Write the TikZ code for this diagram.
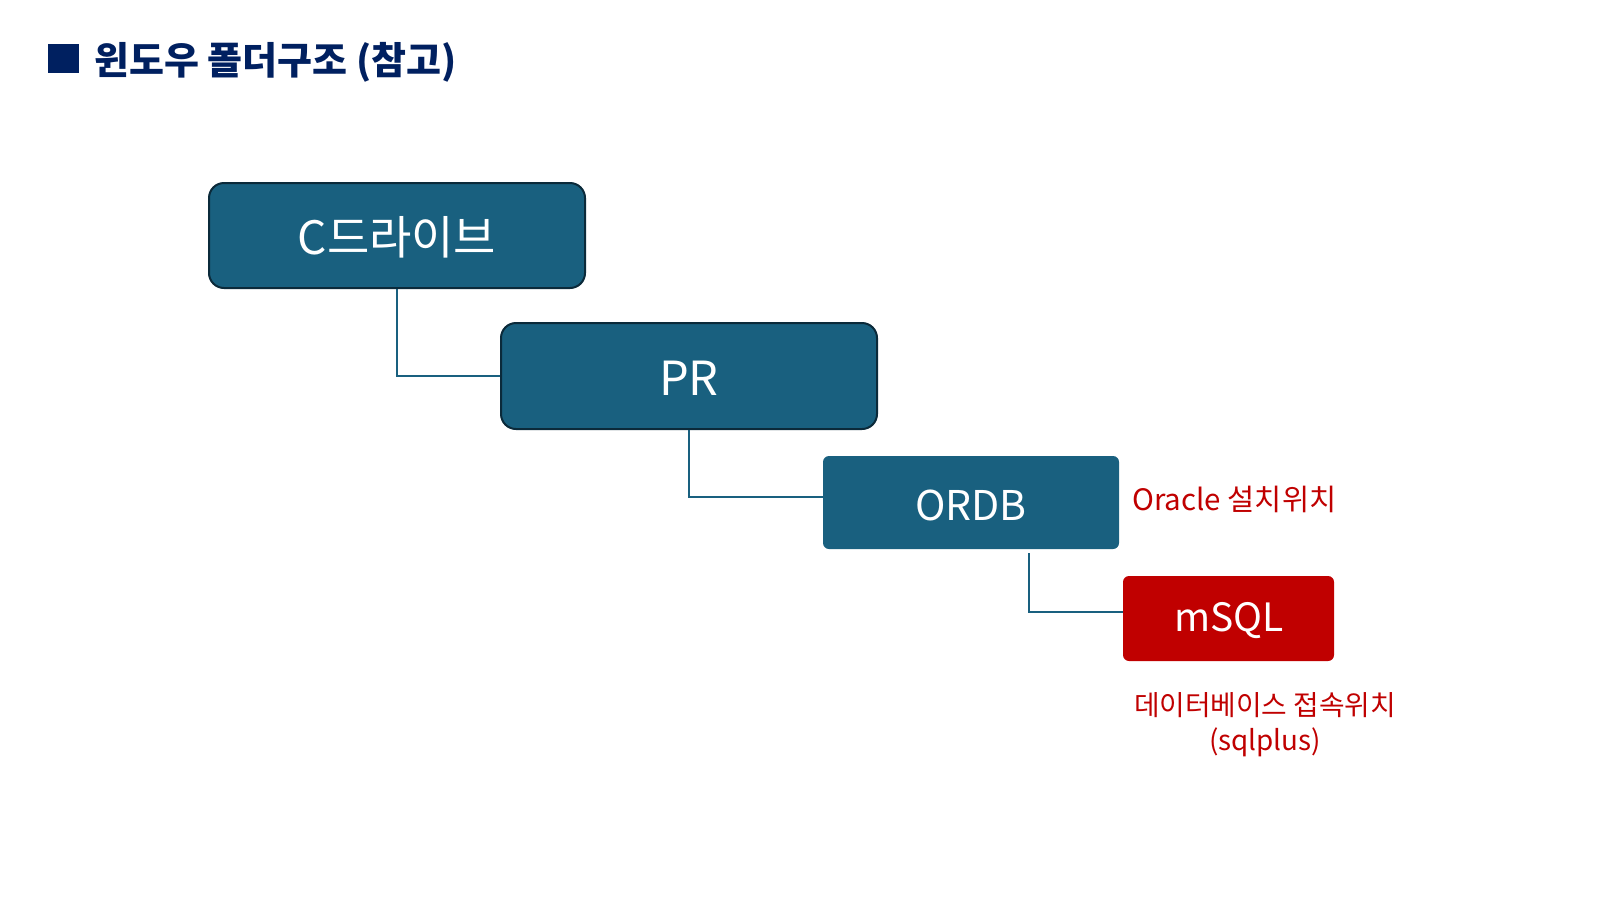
\documentclass[tikz,border=0pt]{standalone}
\usepackage{fontspec}
\setmainfont{Noto Sans CJK KR}
\definecolor{boxblue}{HTML}{19607F}
\definecolor{boxedge}{HTML}{0B2A3A}
\definecolor{navy}{HTML}{002060}
\definecolor{redc}{HTML}{C00000}
\tikzset{
  folder/.style={rectangle, rounded corners=15pt, fill=boxblue, draw=boxedge, line width=2pt, text=white, inner sep=0pt},
  flatbox/.style={rectangle, rounded corners=6pt, fill=boxblue, draw=none, text=white, inner sep=0pt},
  redbox/.style={rectangle, rounded corners=6pt, fill=redc, draw=none, text=white, inner sep=0pt},
  conn/.style={draw=boxblue, line width=2pt},
  note/.style={text=redc, inner sep=0pt}
}
\begin{document}
\begin{tikzpicture}[x=1pt,y=-1pt]
\useasboundingbox (0,0) rectangle (1600,900);
\fill[white] (0,0) rectangle (1600,900);
% title
\node[fill=navy, minimum width=31pt, minimum height=29pt, inner sep=0pt] (bullet) at (63.5,58.5) {};
\node[anchor=west, text=navy, inner sep=0pt, font=\fontsize{38}{42}\selectfont\bfseries] (title) at (94,62) {윈도우 폴더구조 (참고)};
% boxes
\node[folder, minimum width=376pt, minimum height=105pt] (c) at (397,235.5) {};
\node[text=white, font=\fontsize{46}{50}\selectfont, inner sep=0pt] (ct) at (397,237) {C드라이브};
\node[folder, minimum width=376pt, minimum height=106pt] (pr) at (689,376) {};
\node[text=white, font=\fontsize{47}{50}\selectfont, inner sep=0pt] (prt) at (689,378) {PR};
\node[flatbox, minimum width=296pt, minimum height=93pt] (ordb) at (971,502.5) {};
\node[text=white, font=\fontsize{41}{44}\selectfont, inner sep=0pt] (ordbt) at (971,505) {ORDB};
\node[redbox, minimum width=211pt, minimum height=85pt] (msql) at (1228.5,618.5) {};
\node[text=white, font=\fontsize{39}{42}\selectfont, inner sep=0pt] (msqlt) at (1229,621) {mSQL};
% connectors
\draw[conn] (c.south) |- (pr.west);
\draw[conn] (pr.south) |- ([yshift=5.5pt]ordb.west);
\draw[conn] ([xshift=58pt,yshift=-4pt]ordb.south) |- ([yshift=6.5pt]msql.west);
% notes
\node[note, anchor=west, font=\fontsize{29.5}{33}\selectfont] (oranote) at (1132,499) {Oracle 설치위치};
\node[note, align=center, font=\fontsize{27.8}{35}\selectfont] (dbnote) at (1265,725) {데이터베이스 접속위치\\(sqlplus)};
\end{tikzpicture}
\end{document}
